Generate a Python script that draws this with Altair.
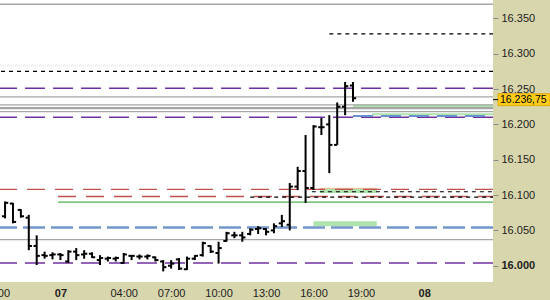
import altair as alt
import pandas as pd

# ---------------- data ----------------
# 30-minute OHLC bars, time in hours relative to 00:00 of day "07"
bar_hours = [-3.5, -3.0, -2.5, -2.0, -1.5, -1.0, -0.5, 0.0, 0.5, 1.0, 1.5, 2.0, 2.5, 3.0, 3.5,
             4.0, 4.5, 5.0, 5.5, 6.0, 6.5, 7.0, 7.5, 8.0, 8.5, 9.0, 9.5, 10.0, 10.5, 11.0,
             11.5, 12.0, 12.5, 13.0, 13.5, 14.0, 14.5, 15.0, 15.5, 16.0, 16.5, 17.0, 17.5, 18.0, 18.5]
opens = [16070, 16088, 16079, 16068, 16028, 16015, 16015, 16016, 16006, 16020, 16016, 16017, 16008, 16010, 16010,
         16004, 16014, 16013, 16013, 16012, 16006, 16000, 16009, 15995, 16010, 16015, 16028, 16018, 16035, 16043,
         16043, 16045, 16052, 16052, 16050, 16060, 16058, 16112, 16134, 16110, 16196, 16200, 16171, 16225, 16255]
highs = [16091, 16089, 16080, 16072, 16043, 16020, 16019, 16018, 16022, 16025, 16022, 16019, 16015, 16013, 16013,
         16018, 16015, 16016, 16016, 16013, 16008, 16008, 16011, 16013, 16015, 16034, 16029, 16034, 16048, 16048,
         16048, 16053, 16056, 16053, 16060, 16072, 16117, 16140, 16185, 16199, 16209, 16213, 16231, 16260, 16260]
lows = [16067, 16060, 16068, 16022, 16001, 16010, 16009, 16008, 16004, 16008, 16010, 16011, 16001, 16006, 16006,
        16003, 16008, 16009, 16009, 16006, 15992, 15996, 15994, 15994, 16008, 16013, 16018, 16003, 16034, 16039,
        16034, 16043, 16045, 16043, 16046, 16055, 16050, 16107, 16089, 16107, 16185, 16131, 16171, 16213, 16232]
closes = [16089, 16062, 16070, 16028, 16014, 16014, 16016, 16015, 16020, 16015, 16017, 16012, 16011, 16011, 16011,
          16016, 16014, 16013, 16014, 16008, 15998, 16003, 15996, 16010, 16014, 16032, 16020, 16025, 16046, 16043,
          16040, 16051, 16053, 16048, 16056, 16063, 16112, 16134, 16110, 16197, 16196, 16171, 16225, 16254, 16237]

# x-axis labels
tick_hours = [-3.6, 0, 4, 7, 10, 13, 16, 19, 23]
tick_labels = ["00", "07", "04:00", "07:00", "10:00", "13:00", "16:00", "19:00", "08"]
day_ticks = [0, 23]

# y-axis ticks
price_ticks = [16000, 16050, 16100, 16150, 16200, 16250, 16300, 16350]

X_MIN, X_MAX = -3.82, 27.35
Y_MIN, Y_MAX = 15977, 16376

# horizontal levels (full width)
gray_levels = [16370, 16239, 16227.5, 16218, 16037]
gray_thick_levels = [16223]
purple_levels = [16251, 16210, 16004]
black_dash_levels = [16275]
faint_levels = [16283]
red_full_levels = [16108]
blue_full_levels = [16054]

# partial levels (start hour -> right edge)
black_part_levels = [16328, 16104.7, 16097]
black_part_starts = [17.0, 15.9, 12.0]
red_part_levels = [16098]
red_part_starts = [-0.15]
green_part_levels = [16090]
green_part_starts = [-0.15]
blue_part_levels = [16212]
blue_part_starts = [18.5]

# green zones
zone_x0 = [18.5, 19.7, 16.4, 16.0]
zone_x1 = [X_MAX, X_MAX, 20.0, 20.0]
zone_lo = [16224, 16213, 16103, 16056]
zone_hi = [16228, 16215.6, 16109.5, 16063]
orange_levels = [16109.5]
orange_x0 = [16.4]
orange_x1 = [20.0]

last_price = [16235]
last_price_text = ["16.236,75"]

# ---------------- chart ----------------
FONT = "Liberation Sans"

label_expr = ""
for v, t in zip(tick_hours, tick_labels):
    label_expr += f"datum.value == {v} ? '{t}' : "
label_expr += "''"
bold_test = " || ".join(f"datum.value == {v}" for v in day_ticks)

xscale = alt.Scale(domain=[X_MIN, X_MAX], nice=False, zero=False)
yscale = alt.Scale(domain=[Y_MIN, Y_MAX], nice=False, zero=False)

xaxis = alt.Axis(title=None, values=tick_hours, labelExpr=label_expr, ticks=False, domain=False,
                 grid=False, labelFont=FONT, labelFontSize=11, labelColor="#222222", labelPadding=5,
                 labelFlush=False, labelOverlap=False, labelBound=False,
                 labelFontWeight=alt.condition(bold_test, alt.value("bold"), alt.value("normal")))
yaxis = alt.Axis(title=None, orient="right", values=price_ticks,
                 labelExpr="replace(format(datum.value, ',d'), ',', '.')",
                 domain=False, grid=False, tickColor="#8a8a8a", tickSize=5, labelPadding=3,
                 labelFont=FONT, labelFontSize=11, labelColor="#222222",
                 labelFontWeight=alt.condition("datum.value == 16000", alt.value("bold"), alt.value("normal")))


def X(f):
    return alt.X(f, scale=xscale, axis=xaxis)


def Y(f):
    return alt.Y(f, scale=yscale, axis=yaxis)


def full_rules(levels, **mk):
    d = pd.DataFrame({"level": levels})
    return alt.Chart(d).mark_rule(**mk).encode(y=Y("level:Q"))


def part_rules(levels, starts, **mk):
    d = pd.DataFrame({"level": levels, "start": starts, "end": [X_MAX] * len(levels)})
    return alt.Chart(d).mark_rule(**mk).encode(x=X("start:Q"), x2="end:Q", y=Y("level:Q"))


bars = pd.DataFrame({"h": bar_hours, "open": opens, "high": highs, "low": lows, "close": closes})
zones = pd.DataFrame({"x0": zone_x0, "x1": zone_x1, "lo": zone_lo, "hi": zone_hi})
orange = pd.DataFrame({"level": orange_levels, "x0": orange_x0, "x1": orange_x1})
price = pd.DataFrame({"p": last_price, "t": last_price_text})

zone_layer = alt.Chart(zones).mark_rect(color="#AEE3AE").encode(
    x=X("x0:Q"), x2="x1:Q", y=Y("lo:Q"), y2="hi:Q")
orange_layer = alt.Chart(orange).mark_rule(color="#F2B987", strokeWidth=1).encode(
    x=X("x0:Q"), x2="x1:Q", y=Y("level:Q"))

layers = [
    zone_layer,
    orange_layer,
    full_rules(faint_levels, color="#E6DCDC", strokeWidth=1, strokeDash=[2, 2]),
    full_rules(gray_levels, color="#A6A6A6", strokeWidth=1.3),
    full_rules(gray_thick_levels, color="#A6A6A6", strokeWidth=2.2),
    full_rules(black_dash_levels, color="black", strokeWidth=1.2, strokeDash=[4, 4]),
    full_rules(purple_levels, color="#7030A0", strokeWidth=1.5, strokeDash=[20, 8]),
    full_rules(red_full_levels, color="#C0504D", strokeWidth=1.3, strokeDash=[18, 10]),
    full_rules(blue_full_levels, color="#7397CC", strokeWidth=2.5, strokeDash=[22, 6]),
    part_rules(red_part_levels, red_part_starts, color="#C0504D", strokeWidth=1.3, strokeDash=[18, 10]),
    part_rules(green_part_levels, green_part_starts, color="#4CAF50", strokeWidth=1.3),
    part_rules(blue_part_levels, blue_part_starts, color="#6A8FD0", strokeWidth=2, strokeDash=[20, 8]),
    part_rules(black_part_levels, black_part_starts, color="black", strokeWidth=1.2, strokeDash=[4, 4]),
]

base = alt.Chart(bars)
hl = base.mark_rule(color="black", strokeWidth=2).encode(x=X("h:Q"), y=Y("low:Q"), y2="high:Q")
op = base.transform_calculate(h0="datum.h - 0.2").mark_rule(color="black", strokeWidth=2).encode(
    x=X("h0:Q"), x2="h:Q", y=Y("open:Q"))
cl = base.transform_calculate(h1="datum.h + 0.2").mark_rule(color="black", strokeWidth=2).encode(
    x=X("h:Q"), x2="h1:Q", y=Y("close:Q"))
layers += [hl, op, cl]

pbase = alt.Chart(price)
pbox = pbase.transform_calculate(a="datum.p + 8.5", b="datum.p - 8.5").mark_rect(
    fill="#FFCC1A", stroke="#E0A000", strokeWidth=0.8).encode(
    x=alt.value(498), x2=alt.value(550), y=Y("a:Q"), y2="b:Q")
ptick = pbase.mark_rule(color="black", strokeWidth=1).encode(
    x=alt.value(493), x2=alt.value(498), y=Y("p:Q"))
ptext = pbase.mark_text(align="left", baseline="middle", font=FONT, fontSize=10.5, color="black").encode(
    x=alt.value(500), y=Y("p:Q"), text="t:N")
layers += [pbox, ptick, ptext]

chart = alt.layer(*layers).properties(
    width=493, height=282, autosize="none",
    padding={"left": 0, "top": 0, "right": 57, "bottom": 18},
    background="#D8D6AD",
).configure_view(fill="white", strokeWidth=0)

chart.save("out.html", embed_options={"renderer": "svg", "actions": False})
